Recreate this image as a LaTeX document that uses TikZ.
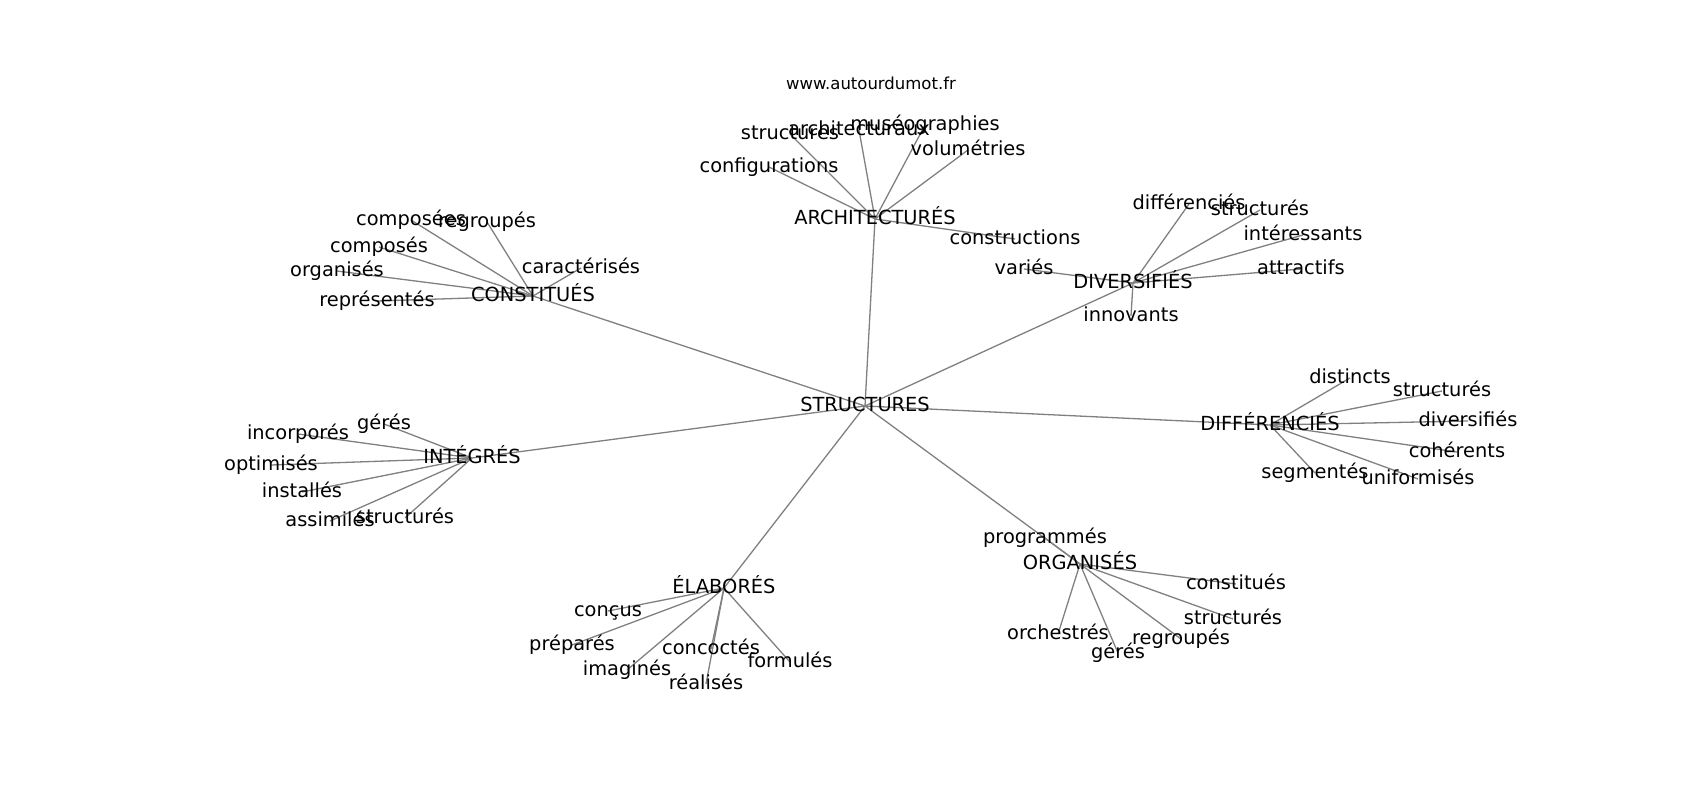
\documentclass[tikz,border=0pt]{standalone}
\usepackage{fontspec}
\setmainfont{DejaVu Sans}
\usetikzlibrary{backgrounds}

\begin{document}
\begin{tikzpicture}[x=1pt, y=-1pt,
		word/.style={font=\fontsize{19.4}{23}\selectfont, inner sep=0pt, text height=14.7pt, text depth=4.1pt},
		edge/.style={draw=gray, line width=1.3pt}]
		\useasboundingbox (0,0) rectangle (1700,800);
		\node[font=\fontsize{16.5}{20}\selectfont, inner sep=0pt] (site) at (871,83) {www.autourdumot.fr};
		% centre
		\node[word] (struct) at (865,406) {STRUCTURES};
		% hubs
		\node[word] (archi) at (875,219) {ARCHITECTURÉS};
		\node[word] (consti) at (533,296) {CONSTITUÉS};
		\node[word] (divers) at (1133,283) {DIVERSIFIÉS};
		\node[word] (differ) at (1270,425) {DIFFÉRENCIÉS};
		\node[word] (integ) at (472,458) {INTÉGRÉS};
		\node[word] (elab) at (724,588) {ÉLABORÉS};
		\node[word] (organ) at (1080,564) {ORGANISÉS};
		% leaves of archi
		\node[word] (a1) at (790,134) {structures};
		\node[word] (a2) at (859,130) {architecturaux};
		\node[word] (a3) at (925,125) {muséographies};
		\node[word] (a4) at (968,150) {volumétries};
		\node[word] (a5) at (769,167) {configurations};
		\node[word] (a6) at (1015,239) {constructions};
		% leaves of consti
		\node[word] (c1) at (411,220) {composées};
		\node[word] (c2) at (487,222) {regroupés};
		\node[word] (c3) at (379,247) {composés};
		\node[word] (c4) at (337,271) {organisés};
		\node[word] (c5) at (581,268) {caractérisés};
		\node[word] (c6) at (377,301) {représentés};
		% leaves of divers
		\node[word] (d1) at (1189,204) {différenciés};
		\node[word] (d2) at (1260,210) {structurés};
		\node[word] (d3) at (1303,235) {intéressants};
		\node[word] (d4) at (1301,269) {attractifs};
		\node[word] (d5) at (1024,269) {variés};
		\node[word] (d6) at (1131,316) {innovants};
		% leaves of differ
		\node[word] (f1) at (1350,378) {distincts};
		\node[word] (f2) at (1442,391) {structurés};
		\node[word] (f3) at (1468,421) {diversifiés};
		\node[word] (f4) at (1457,452) {cohérents};
		\node[word] (f5) at (1315,473) {segmentés};
		\node[word] (f6) at (1418,479) {uniformisés};
		% leaves of integ
		\node[word] (i1) at (384,424) {gérés};
		\node[word] (i2) at (298,434) {incorporés};
		\node[word] (i3) at (271,465) {optimisés};
		\node[word] (i4) at (302,492) {installés};
		\node[word] (i5) at (330,521) {assimilés};
		\node[word] (i6) at (405,518) {structurés};
		% leaves of elab
		\node[word] (e1) at (608,611) {conçus};
		\node[word] (e2) at (572,645) {préparés};
		\node[word] (e3) at (627,670) {imaginés};
		\node[word] (e4) at (711,649) {concoctés};
		\node[word] (e5) at (706,684) {réalisés};
		\node[word] (e6) at (790,662) {formulés};
		% leaves of organ
		\node[word] (o1) at (1045,538) {programmés};
		\node[word] (o2) at (1236,584) {constitués};
		\node[word] (o3) at (1233,619) {structurés};
		\node[word] (o4) at (1058,634) {orchestrés};
		\node[word] (o5) at (1118,653) {gérés};
		\node[word] (o6) at (1181,639) {regroupés};
		\begin{scope}[on background layer]
		\draw[edge] (struct.center) -- (archi.center);
		\draw[edge] (struct.center) -- (consti.center);
		\draw[edge] (struct.center) -- (divers.center);
		\draw[edge] (struct.center) -- (differ.center);
		\draw[edge] (struct.center) -- (integ.center);
		\draw[edge] (struct.center) -- (elab.center);
		\draw[edge] (struct.center) -- (organ.center);
		\draw[edge] (archi.center) -- (a1.center);
		\draw[edge] (archi.center) -- (a2.center);
		\draw[edge] (archi.center) -- (a3.center);
		\draw[edge] (archi.center) -- (a4.center);
		\draw[edge] (archi.center) -- (a5.center);
		\draw[edge] (archi.center) -- (a6.center);
		\draw[edge] (consti.center) -- (c1.center);
		\draw[edge] (consti.center) -- (c2.center);
		\draw[edge] (consti.center) -- (c3.center);
		\draw[edge] (consti.center) -- (c4.center);
		\draw[edge] (consti.center) -- (c5.center);
		\draw[edge] (consti.center) -- (c6.center);
		\draw[edge] (divers.center) -- (d1.center);
		\draw[edge] (divers.center) -- (d2.center);
		\draw[edge] (divers.center) -- (d3.center);
		\draw[edge] (divers.center) -- (d4.center);
		\draw[edge] (divers.center) -- (d5.center);
		\draw[edge] (divers.center) -- (d6.center);
		\draw[edge] (differ.center) -- (f1.center);
		\draw[edge] (differ.center) -- (f2.center);
		\draw[edge] (differ.center) -- (f3.center);
		\draw[edge] (differ.center) -- (f4.center);
		\draw[edge] (differ.center) -- (f5.center);
		\draw[edge] (differ.center) -- (f6.center);
		\draw[edge] (integ.center) -- (i1.center);
		\draw[edge] (integ.center) -- (i2.center);
		\draw[edge] (integ.center) -- (i3.center);
		\draw[edge] (integ.center) -- (i4.center);
		\draw[edge] (integ.center) -- (i5.center);
		\draw[edge] (integ.center) -- (i6.center);
		\draw[edge] (elab.center) -- (e1.center);
		\draw[edge] (elab.center) -- (e2.center);
		\draw[edge] (elab.center) -- (e3.center);
		\draw[edge] (elab.center) -- (e4.center);
		\draw[edge] (elab.center) -- (e5.center);
		\draw[edge] (elab.center) -- (e6.center);
		\draw[edge] (organ.center) -- (o1.center);
		\draw[edge] (organ.center) -- (o2.center);
		\draw[edge] (organ.center) -- (o3.center);
		\draw[edge] (organ.center) -- (o4.center);
		\draw[edge] (organ.center) -- (o5.center);
		\draw[edge] (organ.center) -- (o6.center);
		\end{scope}
		\end{tikzpicture}
\end{document}
